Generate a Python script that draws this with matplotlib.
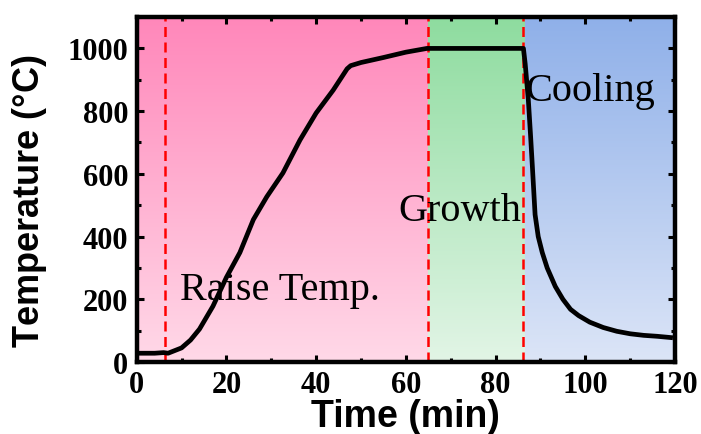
import numpy as np
import matplotlib
matplotlib.use("Agg")
import matplotlib.pyplot as plt
from matplotlib.colors import LinearSegmentedColormap
from matplotlib.ticker import MultipleLocator

plt.rcParams["mathtext.fontset"] = "custom"
plt.rcParams["mathtext.rm"] = "Liberation Sans"

# 温度曲线
time_min = [0, 2, 4, 6, 7, 10, 12, 14, 17, 20, 23, 26, 29, 32.6, 36.4, 40, 43.8,
            46.9, 47.7, 50, 55, 60, 64.7, 70, 75, 80, 86.2, 86.6, 87.3, 87.8, 88.2,
            88.8, 89.5, 90.4, 91.5, 93.3, 95, 96.7, 98.5, 101, 104, 107, 110, 113,
            116, 119]
temp_c = [28, 28, 28, 30, 28, 45, 70, 105, 178, 270, 349, 454, 527, 603, 708, 794, 867,
          935, 945, 955, 971, 988, 1000, 1000, 1000, 1000, 1000, 950, 835, 720, 622,
          470, 400, 349, 300, 241, 200, 168, 148, 127, 110, 98, 90, 85,
          82, 78]

# 阶段分界和背景
stage_edges = [0, 65, 86.5, 120]
stage_top = ["#ff87ba", "#8edc9f", "#8fb0e9"]
stage_bottom = ["#ffd9e8", "#e2f5e6", "#dce5f7"]
stage_names = ["Raise Temp.", "Growth", "Cooling"]
name_x = [9.6, 58.3, 86.6]
name_y = [200, 454, 835]
dash_x = [6.2, 65, 86]

fig = plt.figure(figsize=(7.01, 4.35), dpi=100)
ax = fig.add_axes([0.195, 0.1655, 0.768, 0.793])
ymax = 1100

grad = np.linspace(0, 1, 256).reshape(-1, 1)
for i in range(3):
    cmap = LinearSegmentedColormap.from_list(f"s{i}", [stage_bottom[i], stage_top[i]])
    ax.imshow(grad, cmap=cmap, aspect="auto", origin="lower",
              extent=[stage_edges[i], stage_edges[i + 1], 0, ymax], zorder=0)

for x in dash_x:
    ax.axvline(x, color="#ff0000", lw=1.8, ls=(0, (4, 2.2)), zorder=2)

ax.plot(time_min, temp_c, color="black", lw=3.4, zorder=3)

for name, x, y in zip(stage_names, name_x, name_y):
    ax.text(x, y, name, fontsize=29, family="Liberation Serif", zorder=4)

ax.set_xlim(0, 120)
ax.set_ylim(0, ymax)
ax.xaxis.set_major_locator(MultipleLocator(20))
ax.xaxis.set_minor_locator(MultipleLocator(10))
ax.yaxis.set_major_locator(MultipleLocator(200))
ax.yaxis.set_minor_locator(MultipleLocator(100))
ax.tick_params(which="both", direction="in", top=True, right=True, width=2.2)
ax.tick_params(which="major", length=5, pad=6)
ax.tick_params(which="minor", length=3)
for lab in ax.get_xticklabels() + ax.get_yticklabels():
    lab.set_family("Liberation Serif")
    lab.set_fontweight("bold")
    lab.set_fontsize(22)
for sp in ax.spines.values():
    sp.set_linewidth(3.2)

ax.set_xlabel("Time (min)", family="Liberation Sans", fontweight="bold", fontsize=27)
ax.set_ylabel(r"Temperature $\mathregular{(°C)}$", family="Liberation Sans",
              fontweight="bold", fontsize=26)
ax.xaxis.set_label_coords(0.5, -0.105)
ax.yaxis.set_label_coords(-0.162, 0.47)

fig.savefig("out.png", dpi=100)
